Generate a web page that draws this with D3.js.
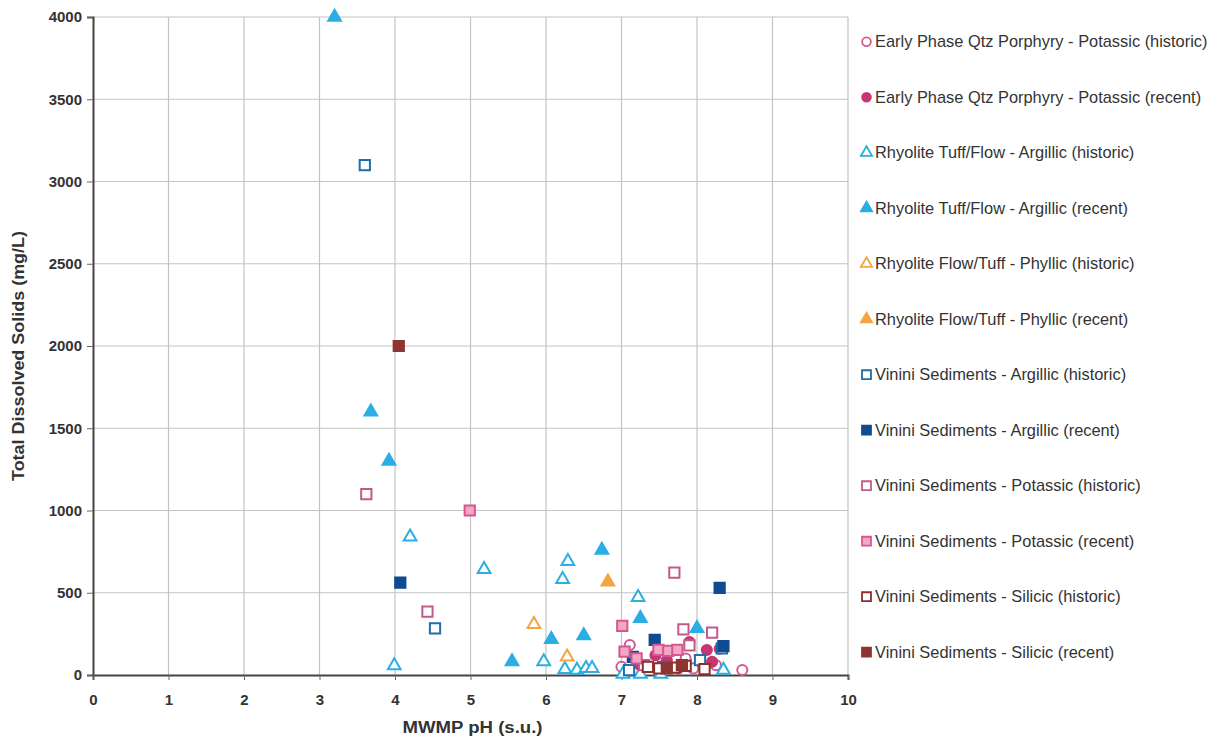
<!DOCTYPE html>
<html>
<head>
<meta charset="utf-8">
<script src="https://cdn.jsdelivr.net/npm/d3@7"></script>
<style>
  body { margin: 0; background: #fff; }
  text { font-family: "Liberation Sans", Arial, sans-serif; fill: #333; }
</style>
</head>
<body>
<svg id="chart"></svg>
<script>
// series names, as in the legend
const seriesNames = [
  "Early Phase Qtz Porphyry - Potassic (historic)",
  "Early Phase Qtz Porphyry - Potassic (recent)",
  "Rhyolite Tuff/Flow - Argillic (historic)",
  "Rhyolite Tuff/Flow - Argillic (recent)",
  "Rhyolite Flow/Tuff - Phyllic (historic)",
  "Rhyolite Flow/Tuff - Phyllic (recent)",
  "Vinini Sediments - Argillic (historic)",
  "Vinini Sediments - Argillic (recent)",
  "Vinini Sediments - Potassic (historic)",
  "Vinini Sediments - Potassic (recent)",
  "Vinini Sediments - Silicic (historic)",
  "Vinini Sediments - Silicic (recent)"
];

// pH values per series
const phValues = [
  [7.11, 8.6, 7.0, 7.3, 7.95, 8.25, 7.85],
  [8.13, 7.45, 7.6, 7.9, 8.2, 8.3, 7.25, 7.75],
  [4.2, 5.18, 6.29, 6.22, 7.22, 3.99, 5.97, 6.25, 6.41, 6.53, 6.61, 7.02, 7.25, 7.52, 8.35],
  [3.2, 3.68, 3.92, 6.74, 6.07, 6.5, 5.55, 7.25, 8.0],
  [5.84, 6.28],
  [6.82],
  [3.6, 4.53, 8.04, 8.33, 7.55, 7.1],
  [4.07, 8.3, 7.44, 7.15, 8.35],
  [3.62, 4.43, 7.7, 7.82, 8.2, 7.9, 7.3],
  [4.99, 7.01, 7.04, 7.2, 7.49, 7.62, 7.74],
  [7.35, 7.5, 7.7, 7.85, 8.1],
  [4.05, 7.6, 7.8]
];

// TDS values per series (mg/L)
const tdsValues = [
  [182, 30, 50, 60, 40, 60, 100],
  [152, 120, 90, 200, 80, 160, 60, 40],
  [840, 642, 691, 582, 472, 57, 81, 35, 30, 40, 40, 5, 5, 5, 30],
  [4000, 1600, 1300, 760, 217, 239, 81, 345, 283],
  [308, 111],
  [567],
  [3100, 284, 91, 162, 50, 30],
  [561, 530, 213, 110, 175],
  [1100, 385, 622, 278, 257, 180, 60],
  [1000, 298, 142, 101, 152, 146, 152],
  [50, 40, 45, 55, 35],
  [2000, 40, 60]
];

const xTicks = [0, 1, 2, 3, 4, 5, 6, 7, 8, 9, 10];
const yTicks = [0, 500, 1000, 1500, 2000, 2500, 3000, 3500, 4000];

// marker styles
const shapes = ["circle", "circle", "triangle", "triangle", "triangle", "triangle",
                "square", "square", "square", "square", "square", "square"];
const strokes = ["#d2598f", "#c8356f", "#2aaee3", "#2aaee3", "#f4a541", "#f4a541",
                 "#1f6ea8", "#0f4b93", "#c45a8c", "#d6578f", "#8e2c2e", "#8e3432"];
const fills = ["#fff", "#c8356f", "#fff", "#2aaee3", "#fff", "#f4a541",
               "#fff", "#0f4b93", "#fff", "#f4a6c6", "#fff", "#8e3432"];

const W = 1222, H = 740;
const margin = {top: 17, right: 374, bottom: 65, left: 93};

const svg = d3.select("#chart").attr("width", W).attr("height", H);

const x = d3.scaleLinear().domain([0, 10]).range([margin.left, W - margin.right]);
const y = d3.scaleLinear().domain([0, 4000]).range([H - margin.bottom, margin.top]);

// grid
svg.append("g").selectAll("line").data(xTicks.slice(1))
  .join("line")
  .attr("x1", d => x(d)).attr("x2", d => x(d))
  .attr("y1", y(0)).attr("y2", y(4000))
  .attr("stroke", "#c4c4c4").attr("stroke-width", 1.2);
svg.append("g").selectAll("line").data(yTicks.slice(1))
  .join("line")
  .attr("x1", x(0)).attr("x2", x(10))
  .attr("y1", d => y(d)).attr("y2", d => y(d))
  .attr("stroke", "#c4c4c4").attr("stroke-width", 1.2);

// axes
const yAxis = svg.append("g")
  .attr("transform", `translate(${x(0)},0)`)
  .call(d3.axisLeft(y).tickValues(yTicks).tickFormat(d3.format("d")).tickSize(6).tickPadding(5));
const xAxis = svg.append("g")
  .attr("transform", `translate(0,${y(0)})`)
  .call(d3.axisBottom(x).tickValues(xTicks).tickFormat(d3.format("d")).tickSize(5).tickPadding(14));
[xAxis, yAxis].forEach(a => {
  a.select(".domain").attr("stroke", "#444").attr("stroke-width", 2);
  a.selectAll(".tick line").attr("stroke", "#666");
  a.selectAll("text").attr("font-size", 15).attr("font-weight", "bold")
    .attr("fill", "#333").attr("font-family", "Liberation Sans, Arial, sans-serif");
});

// markers
function symbolFor(shape) {
  if (shape === "circle") return d3.symbol(d3.symbolCircle, 80);
  if (shape === "triangle") return d3.symbol(d3.symbolTriangle, 70);
  return d3.symbol(d3.symbolSquare, 105);
}

seriesNames.forEach((name, i) => {
  const pts = phValues[i].map((p, j) => ({ph: p, tds: tdsValues[i][j]}));
  svg.append("g").selectAll("path").data(pts)
    .join("path")
    .attr("d", symbolFor(shapes[i]))
    .attr("transform", d => `translate(${x(d.ph)},${y(d.tds)})`)
    .attr("fill", fills[i])
    .attr("stroke", strokes[i])
    .attr("stroke-width", 2);
});

// axis titles
svg.append("text")
  .attr("x", (x(0) + x(10)) / 2 + 2).attr("y", 733)
  .attr("text-anchor", "middle")
  .attr("font-size", 16).attr("font-weight", "bold")
  .attr("textLength", 140).attr("lengthAdjust", "spacingAndGlyphs")
  .text("MWMP pH (s.u.)");

svg.append("text")
  .attr("transform", `translate(24,${356}) rotate(-90)`)
  .attr("text-anchor", "middle")
  .attr("font-size", 16).attr("font-weight", "bold")
  .attr("textLength", 250).attr("lengthAdjust", "spacingAndGlyphs")
  .text("Total Dissolved Solids (mg/L)");

// legend
const legend = svg.append("g");
seriesNames.forEach((name, i) => {
  const ly = 41.7 + i * 55.5;
  const sym = shapes[i] === "circle" ? d3.symbol(d3.symbolCircle, 60)
    : shapes[i] === "triangle" ? d3.symbol(d3.symbolTriangle, 55)
    : d3.symbol(d3.symbolSquare, 80);
  legend.append("path")
    .attr("d", sym)
    .attr("transform", `translate(866.5,${ly})`)
    .attr("fill", fills[i]).attr("stroke", strokes[i]).attr("stroke-width", 1.8);
  legend.append("text")
    .attr("x", 875).attr("y", ly).attr("dy", "0.35em")
    .attr("font-size", 16.4)
    .text(name);
});
</script>
</body>
</html>
